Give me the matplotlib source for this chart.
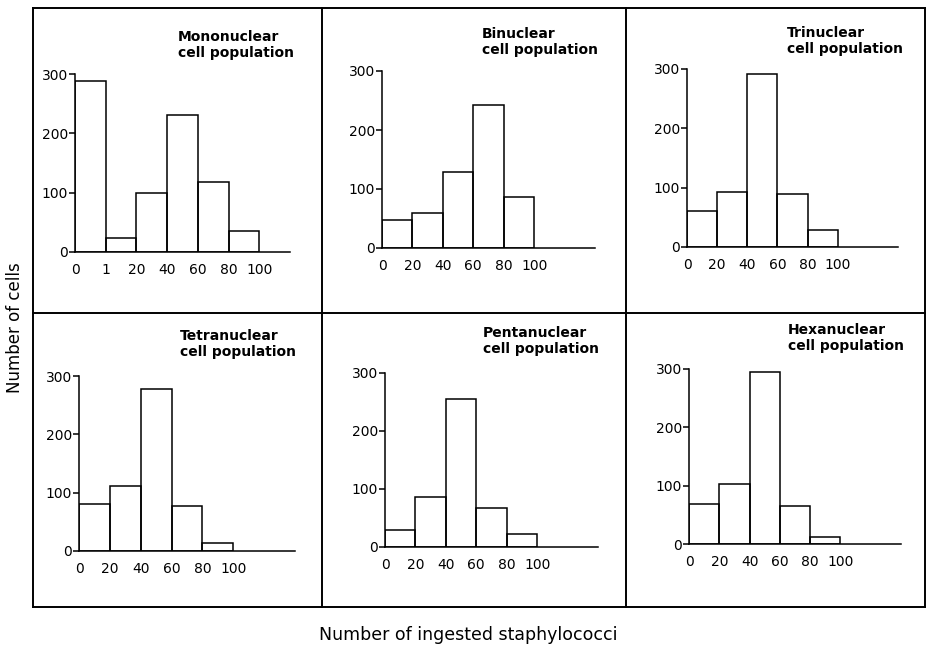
import matplotlib
matplotlib.use("Agg")
import matplotlib.pyplot as plt
from matplotlib.lines import Line2D

W, H = 930, 648

# counts per class of ingested staphylococci
mono_labels = ["0", "1", "20", "40", "60", "80", "100"]
mono_counts = [288, 24, 100, 231, 118, 35]

std_labels = ["0", "20", "40", "60", "80", "100"]
bi_counts = [47, 59, 129, 242, 87]
tri_counts = [61, 92, 291, 89, 29]
tetra_counts = [81, 112, 277, 78, 13]
penta_counts = [30, 86, 256, 67, 22]
hexa_counts = [68, 103, 295, 66, 12]

titles = ["Mononuclear", "Binuclear", "Trinuclear",
          "Tetranuclear", "Pentanuclear", "Hexanuclear"]
yticks = [0, 100, 200, 300]

panels = [
    # counts, labels, (spine x, y at 0, y at 300, axis end x), title xy (px)
    (mono_counts, mono_labels, (75, 252, 74, 290), (178, 37)),
    (bi_counts, std_labels, (382, 248, 71, 595), (482, 34)),
    (tri_counts, std_labels, (687, 247, 69, 898), (787, 33)),
    (tetra_counts, std_labels, (79, 551, 376, 295), (180, 336)),
    (penta_counts, std_labels, (385, 547, 373, 598), (483, 333)),
    (hexa_counts, std_labels, (689, 544, 369, 901), (788, 330)),
]

fig = plt.figure(figsize=(W / 100, H / 100), dpi=100)
fig.patch.set_facecolor("white")


def fx(px):
    return px / W


def fy(py):
    return 1 - py / H


# outer frame and panel dividers
frame = dict(color="black", lw=1.4)
L, R, T, B, MID = 33, 925, 8, 607, 313
for xs, ys in [((L, R), (T, T)), ((L, R), (B, B)), ((L, L), (T, B)),
               ((R, R), (T, B)), ((L, R), (MID, MID)),
               ((322, 322), (T, B)), ((626, 626), (T, B))]:
    fig.add_artist(Line2D([fx(x) for x in xs], [fy(y) for y in ys], **frame))

for (counts, labels, (sx, y0, y3, ex), (tx, ty)), title in zip(panels, titles):
    ax = fig.add_axes([fx(sx), fy(y0), (ex - sx) / W, (y0 - y3) / H])
    ax.set_xlim(0, 7)
    ax.set_ylim(0, 300)
    ax.bar(range(len(counts)), counts, width=1, align="edge",
           fill=False, edgecolor="black", linewidth=1.1)
    ax.set_facecolor("none")
    for side in ("top", "right"):
        ax.spines[side].set_visible(False)
    for side in ("left", "bottom"):
        ax.spines[side].set_linewidth(1.1)
    ax.set_xticks(range(len(labels)))
    ax.set_xticklabels(labels)
    ax.set_yticks(yticks)
    ax.tick_params(axis="x", length=0, pad=8, labelsize=10)
    ax.tick_params(axis="y", length=4, width=1.1, pad=1, labelsize=10)
    fig.text(fx(tx), fy(ty - 7), title + "\ncell population", fontsize=10,
             fontweight="bold", ha="left", va="top", linespacing=1.2)

fig.text(fx(15), fy(328), "Number of cells", rotation=90,
         ha="center", va="center", fontsize=12)
fig.text(fx(468), fy(635), "Number of ingested staphylococci",
         ha="center", va="center", fontsize=12.5)

fig.savefig("out.png", dpi=100)
